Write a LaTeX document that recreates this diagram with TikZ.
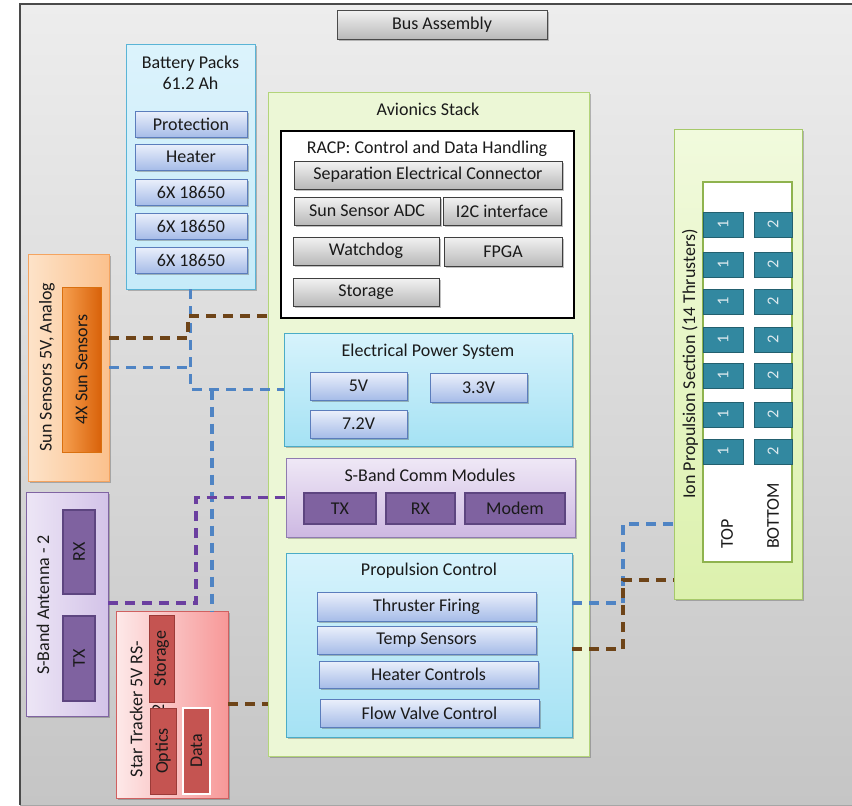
\documentclass[tikz,border=0pt]{standalone}
\usepackage{fontspec}
\usepackage{graphicx}
\setmainfont{Carlito}
\usetikzlibrary{shadows}
\definecolor{txt}{HTML}{1A1A1A}
\definecolor{frame}{HTML}{4A4A4A}
\definecolor{bgtop}{HTML}{EDEDED}
\definecolor{bgbot}{HTML}{C5C5C5}
\definecolor{cblue}{HTML}{4F84C4}
\definecolor{cbrown}{HTML}{6E4418}
\definecolor{cpurple}{HTML}{6B3FA0}
\definecolor{batD}{HTML}{5AB4D6}\definecolor{batT}{HTML}{DCF3FC}\definecolor{batB}{HTML}{C6EBF9}
\definecolor{binD}{HTML}{5B7DBC}\definecolor{binT}{HTML}{EBF0FB}\definecolor{binB}{HTML}{A6BCE8}
\definecolor{aviD}{HTML}{B3D47A}\definecolor{aviF}{HTML}{ECF7D6}
\definecolor{gryD}{HTML}{3F3F3F}\definecolor{gryT}{HTML}{F2F2F2}\definecolor{gryB}{HTML}{B9B9B9}
\definecolor{cyD}{HTML}{4BACC6}\definecolor{cyT}{HTML}{D7F3FC}\definecolor{cyB}{HTML}{A5E2F4}
\definecolor{lavD}{HTML}{8F7BB0}\definecolor{lavT}{HTML}{EFE8F6}\definecolor{lavB}{HTML}{CDB8E2}
\definecolor{purD}{HTML}{5D4580}\definecolor{purF}{HTML}{7F62A0}
\definecolor{sunD}{HTML}{F4A460}\definecolor{sunL}{HTML}{FDE3C9}\definecolor{sunR}{HTML}{FBC18D}
\definecolor{suiD}{HTML}{D9700F}\definecolor{suiL}{HTML}{F6A050}\definecolor{suiR}{HTML}{D9620A}
\definecolor{antD}{HTML}{8064A2}\definecolor{antL}{HTML}{EDE6F6}\definecolor{antR}{HTML}{D3C3E8}
\definecolor{stD}{HTML}{D06060}\definecolor{stL}{HTML}{FDE9E9}\definecolor{stR}{HTML}{F79898}
\definecolor{redD}{HTML}{9B3B38}\definecolor{redF}{HTML}{C55451}
\definecolor{ionD}{HTML}{A6C96A}\definecolor{ionT}{HTML}{F1FADD}\definecolor{ionB}{HTML}{DCF1AD}
\definecolor{iniD}{HTML}{8FB34E}
\definecolor{thD}{HTML}{23606F}\definecolor{thF}{HTML}{3288A0}\definecolor{thT}{HTML}{DDE9EE}
\newcommand\bx[7]{\node[#1, minimum width={#5-#3}, minimum height={#6-#4}] (#2) at ({(#3+#5)/2},{(#4+#6)/2}) {#7};}
\begin{document}
\begin{tikzpicture}[x=1pt,y=-1pt,
  every node/.style={inner sep=0pt, outer sep=0pt, text=txt, font=\fontsize{18}{21.5}\selectfont},
  shad/.style={drop shadow={opacity=0.35, shadow xshift=1.5pt, shadow yshift=-1.5pt, fill=black!70}},
  busbox/.style={draw=frame, line width=1pt, top color=gryT, bottom color=gryB, shad},
  batouter/.style={draw=batD, line width=0.8pt, top color=batT, bottom color=batB, shad},
  bluein/.style={draw=binD, line width=0.8pt, top color=binT, bottom color=binB, shad},
  avi/.style={draw=aviD, line width=0.8pt, fill=aviF, shad},
  racp/.style={draw=black, line width=2.5pt, fill=white},
  grayin/.style={draw=gryD, line width=1pt, top color=gryT, bottom color=gryB, shad},
  cyanout/.style={draw=cyD, line width=0.8pt, top color=cyT, bottom color=cyB, shad},
  lavout/.style={draw=lavD, line width=0.8pt, top color=lavT, bottom color=lavB, shad},
  purin/.style={draw=purD, line width=1.2pt, fill=purF},
  sunout/.style={draw=sunD, line width=0.8pt, left color=sunL, right color=sunR, shad},
  sunin/.style={draw=suiD, line width=0.8pt, left color=suiL, right color=suiR},
  antout/.style={draw=antD, line width=0.8pt, left color=antL, right color=antR, shad},
  starout/.style={draw=stD, line width=0.8pt, left color=stL, right color=stR, shad},
  redin/.style={draw=redD, line width=0.8pt, fill=redF},
  ionout/.style={draw=ionD, line width=0.8pt, top color=ionT, bottom color=ionB, shad},
  ionin/.style={draw=iniD, line width=1.5pt, fill=white},
  thr/.style={draw=thD, line width=1pt, fill=thF, text=thT, font=\fontsize{16.5}{19}\selectfont},
  conn/.style={line width=3.5pt, dash pattern=on 10pt off 7pt},
  bluec/.style={conn, draw=cblue},
  brownc/.style={conn, draw=cbrown},
  purc/.style={conn, draw=cpurple},
]
\useasboundingbox (0,0) rectangle (852,806);
\fill[white] (0,0) rectangle (852,806);
\shade[top color=bgtop, bottom color=bgbot] (20,4) rectangle (852,806);
\draw[frame, line width=1.2pt] (852,4) -- (20,4) -- (20,805);
\draw[black!35, line width=0.8pt] (20,805) -- (852,805);

% Bus assembly
\bx{busbox}{bus}{337}{10}{547}{39}{Bus Assembly}

% Battery packs
\bx{batouter}{bat}{126}{44}{255}{289}{}
\node[align=center] (batt) at (190.5,73) {Battery Packs\\61.2 Ah};
\bx{bluein}{prot}{135}{111}{247}{137}{Protection}
\bx{bluein}{heat}{135}{144}{247}{170}{Heater}
\bx{bluein}{cell1}{135}{179}{247}{205}{6X 18650}
\bx{bluein}{cell2}{135}{213}{247}{239}{6X 18650}
\bx{bluein}{cell3}{135}{247}{247}{273}{6X 18650}

% Avionics stack
\bx{avi}{avi}{268}{92}{589}{756}{}
\node (avit) at (428,109) {Avionics Stack};
\bx{racp}{racp}{281}{131}{574}{318}{}
\node (racpt) at (427,149) {RACP: Control and Data Handling};
\bx{grayin}{sep}{294}{161}{562}{189}{Separation Electrical Connector}
\bx{grayin}{ssadc}{294}{197}{440}{225}{Sun Sensor ADC}
\bx{grayin}{i2c}{443}{197}{561}{225}{I2C interface}
\bx{grayin}{wd}{293}{237}{439}{265}{Watchdog}
\bx{grayin}{fpga}{444}{237}{562}{266}{FPGA}
\bx{grayin}{stor}{293}{278}{439}{306}{Storage}

% EPS
\bx{cyanout}{eps}{284}{333}{572}{446}{}
\node (epst) at (428,352) {Electrical Power System};
\bx{bluein}{v5}{310}{372}{407}{400}{5V}
\bx{bluein}{v33}{430}{373}{527}{402}{3.3V}
\bx{bluein}{v72}{310}{410}{407}{438}{7.2V}

% S-band comm
\bx{lavout}{sbc}{286}{458}{575}{537}{}
\node (sbct) at (430,475) {S-Band Comm Modules};
\bx{purin}{ctx}{304}{493}{376}{524}{TX}
\bx{purin}{crx}{386}{493}{455}{524}{RX}
\bx{purin}{modem}{465}{493}{565}{524}{Modem}

% Propulsion control
\bx{cyanout}{prop}{286}{553}{572}{737}{}
\node (propt) at (429,571) {Propulsion Control};
\bx{bluein}{tf}{317}{592}{536}{621}{Thruster Firing}
\bx{bluein}{ts}{317}{626}{536}{654}{Temp Sensors}
\bx{bluein}{hc}{319}{661}{538}{688}{Heater Controls}
\bx{bluein}{fv}{320}{699}{539}{727}{Flow Valve Control}

% Sun sensors
\bx{sunout}{sun}{28}{254}{109}{481}{}
\node[rotate=90] (sunt) at (47,367) {Sun Sensors 5V, Analog};
\bx{sunin}{sun4}{62}{287}{101}{452}{\rotatebox{90}{4X Sun Sensors}}

% S-band antenna
\bx{antout}{ant}{26}{492}{108}{716}{}
\node[rotate=90] (antt) at (43,605) {S-Band Antenna - 2};
\bx{purin}{arx}{63}{510}{95}{594}{\rotatebox{90}{RX}}
\bx{purin}{atx}{63}{616}{95}{701}{\rotatebox{90}{TX}}

% Star tracker
\bx{starout}{star}{116}{611}{228}{798}{}
\node[rotate=90, align=center] (start) at (147,709) {Star Tracker 5V RS-\\2};
\bx{redin}{sstor}{149}{615}{174}{702}{\rotatebox{90}{Storage}}
\bx{redin}{sopt}{150}{708}{176}{794}{\rotatebox{90}{Optics}}
\bx{redin, draw=white, line width=1.5pt}{sdata}{183}{708}{210}{794}{\rotatebox{90}{Data}}

% Ion propulsion section
\bx{ionout}{ion}{674}{129}{802}{599}{}
\node[rotate=90] (iont) at (690,364) {Ion Propulsion Section (14 Thrusters)};
\bx{ionin}{ionin}{703}{182}{792}{562}{}
\foreach \r/\yy in {1/212,2/252,3/289,4/327,5/363,6/402,7/439}{
  \bx{thr}{ta\r}{703}{\yy}{743}{\yy+25}{\rotatebox{90}{1}}
  \bx{thr}{tb\r}{754}{\yy}{792}{\yy+25}{\rotatebox{90}{2}}
}
\node[rotate=90] (top) at (727,534) {TOP};
\node[rotate=90] (bottom) at (773,516) {BOTTOM};

% Connectors
\coordinate (cb2) at (212,389.5);
\coordinate (cr1) at (188,338);
\coordinate (cr2) at (188,316);
\coordinate (cp1) at (196,603);
\coordinate (cr3) at (228,704);
\coordinate (cq1) at (623,603);
\coordinate (cq2) at (623,524);
\coordinate (cq3) at (623,649);
\coordinate (cq4) at (623,580);

\draw[bluec] (bat.south) |- (eps.west);
\draw[bluec] (sun.east) -- (sun.east -| bat.south);
\draw[bluec] (cb2) -- (cb2 |- star.north);
\draw[brownc] (sun.east |- cr1) -- (cr1) -- (cr2) -- (cr2 -| avi.west);
\draw[purc] (ant.east |- cp1) -- (cp1) |- (sbc.west);
\draw[brownc] (cr3) -- (cr3 -| avi.west);
\draw[bluec] (prop.east |- cq1) -- (cq1) -- (cq2) -- (cq2 -| ion.west);
\draw[brownc] (prop.east |- cq3) -- (cq3) -- (cq4) -- (cq4 -| ion.west);
\end{tikzpicture}
\end{document}
